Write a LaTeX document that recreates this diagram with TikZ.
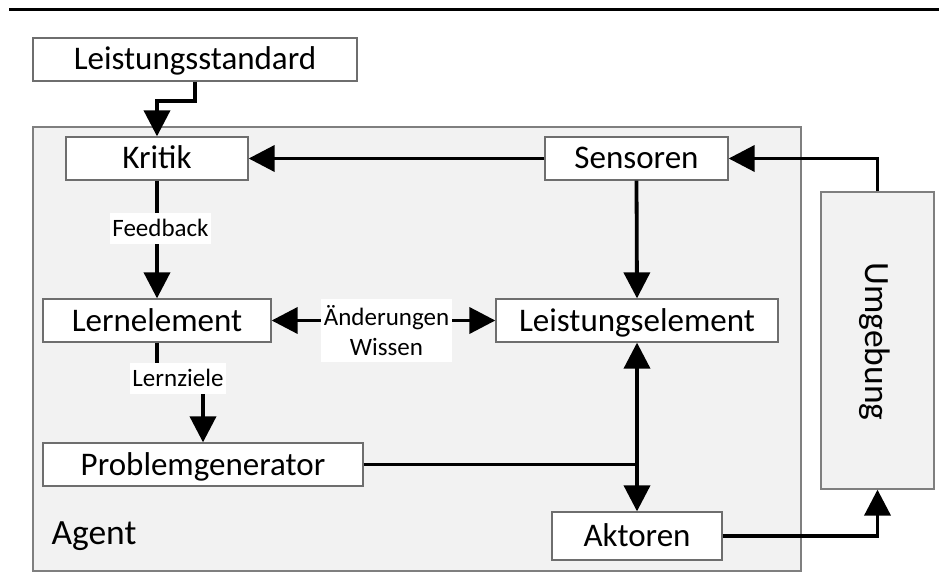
\documentclass[tikz,border=0pt]{standalone}
\usepackage{fontspec}
\setmainfont{Carlito}
\usetikzlibrary{arrows.meta,calc}
\definecolor{agentfill}{HTML}{F2F2F2}
\definecolor{framegray}{HTML}{7F7F7F}
\definecolor{boxline}{HTML}{6E6E6E}
\newcommand\bigtext{\fontsize{33}{40}\selectfont}
\newcommand\hugetext{\fontsize{35.5}{42}\selectfont}
\newcommand\smalltext{\fontsize{25}{30}\selectfont}

\begin{document}
\begin{tikzpicture}[x=1pt,y=-1pt,
  blockbox/.style={draw=boxline, line width=1.3pt, fill=white, inner sep=0pt,
    font=\bigtext, text height=21pt, text depth=0pt, minimum height=43pt},
  groupbox/.style={draw=framegray, line width=1.3pt, fill=agentfill, inner sep=0pt},
  lbl/.style={fill=white, inner sep=0pt, font=\smalltext, text height=16pt,
    text depth=0pt, minimum height=31pt},
  flow/.style={line width=3.8pt, -{Triangle[length=26pt,width=26pt]}},
  twoway/.style={line width=3.8pt, {Triangle[length=26pt,width=26pt]}-{Triangle[length=26pt,width=26pt]}},
  plain/.style={line width=3.8pt}]
  \useasboundingbox (0,0) rectangle (939,588);

  % rule across the top
  \coordinate (ruleL) at (9,9.5);
  \coordinate (ruleR) at (939,9.5);
  \draw[line width=2.6pt] (ruleL) -- (ruleR);

  % agent frame and environment
  \node[groupbox, minimum width=768pt, minimum height=444pt] (agent) at (417,349) {};
  \node[anchor=base west, font=\hugetext] (agenttext) at (48,544) {Agent};
  \node[groupbox, minimum width=113pt, minimum height=297pt] (umg) at (877.5,340.5) {};
  \node[rotate=-90, font=\hugetext, inner sep=0pt, text height=23pt, text depth=0pt]
    (umgtext) at (877,341.5) {Umgebung};

  % components
  \node[blockbox, minimum width=324pt] (ls) at (195,59.5) {Leistungsstandard};
  \node[blockbox, minimum width=182pt] (kritik) at (157,158.5) {Kritik};
  \node[blockbox, minimum width=183pt] (sens) at (636.5,158.5) {Sensoren};
  \node[blockbox, minimum width=228pt] (lern) at (157,320.5) {Lernelement};
  \node[blockbox, minimum width=282pt] (le) at (637,320.5) {Leistungselement};
  \node[blockbox, minimum width=320pt] (prob) at (203,464.5) {Problemgenerator};
  \node[blockbox, minimum width=170pt, minimum height=48pt] (akt) at (637,536) {Aktoren};

  % connectors
  \draw[flow] (ls.south) -- ++(0,19) -| (kritik.north);
  \draw[flow] (sens.west) -- (kritik.east);
  \draw[flow] (sens.south) -- (le.north);
  \draw[flow] (kritik.south) -- (lern.north);
  \draw[twoway] (lern.east) -- (le.west);
  \draw[flow] (lern.south) -- ++(0,36.5) -| (prob.north);
  \coordinate (join) at (prob.east -| le.south);
  \draw[plain] (prob.east) -- (join);
  \draw[twoway] (le.south) -- (akt.north);
  \draw[flow] (akt.east) -| (umg.south);
  \draw[flow] (umg.north) |- (sens.east);

  % connector labels
  \node[lbl, minimum width=101pt] (fb) at (160.5,228.5) {Feedback};
  \node[lbl, minimum width=96pt] (lz) at (178,378.5) {Lernziele};
  \node[fill=white, inner sep=0pt, font=\smalltext, align=center,
    minimum width=131pt, minimum height=63pt] (aw) at (386.5,330.5) {Änderungen\\Wissen};
\end{tikzpicture}
\end{document}
